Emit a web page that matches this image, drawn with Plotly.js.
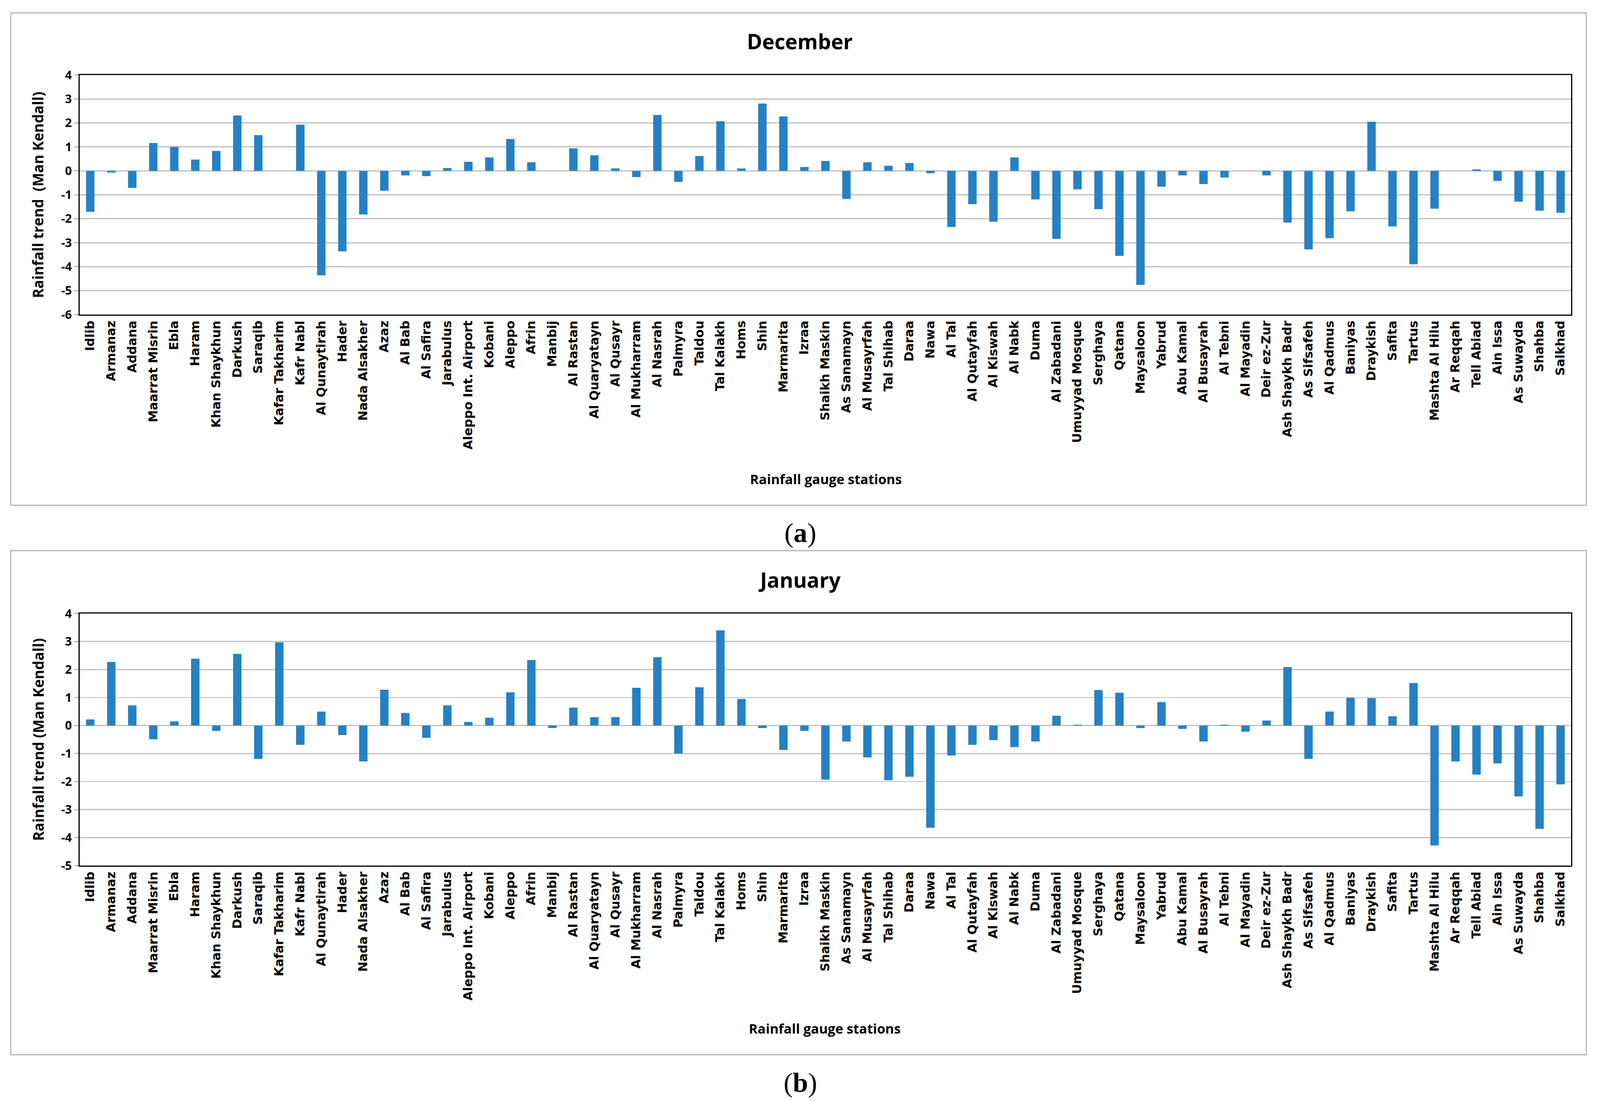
<!DOCTYPE html>
<html>
<head>
<meta charset="utf-8">
<script src="https://cdn.plot.ly/plotly-3.0.1.min.js"></script>
<style>
html,body{margin:0;padding:0;background:#fff;overflow:hidden;}
#chart{position:absolute;left:0;top:0;}
</style>
</head>
<body>
<div id="chart"></div>
<script>
const stations = ["Idlib","Armanaz","Addana","Maarrat Misrin","Ebla","Haram","Khan Shaykhun","Darkush","Saraqib","Kafar Takharim","Kafr Nabl","Al Qunaytirah","Hader","Nada Alsakher","Azaz","Al Bab","Al Safira","Jarabulus","Aleppo Int. Airport","Kobani","Aleppo","Afrin","Manbij","Al Rastan","Al Quaryatayn","Al Qusayr","Al Mukharram","Al Nasrah","Palmyra","Taldou","Tal Kalakh","Homs","Shin","Marmarita","Izraa","Shaikh Maskin","As Sanamayn","Al Musayrfah","Tal Shihab","Daraa","Nawa","Al Tal","Al Qutayfah","Al Kiswah","Al Nabk","Duma","Al Zabadani","Umuyyad Mosque","Serghaya","Qatana","Maysaloon","Yabrud","Abu Kamal","Al Busayrah","Al Tebni","Al Mayadin","Deir ez-Zur","Ash Shaykh Badr","As Sifsafeh","Al Qadmus","Baniyas","Draykish","Safita","Tartus","Mashta Al Hilu","Ar Reqqah","Tell Abiad","Ain Issa","As Suwayda","Shahba","Salkhad"];

const december = [-1.71,-0.07,-0.71,1.16,1.0,0.47,0.83,2.31,1.49,0,1.93,-4.36,-3.36,-1.82,-0.83,-0.19,-0.22,0.12,0.38,0.56,1.33,0.36,0,0.94,0.65,0.1,-0.26,2.33,-0.46,0.62,2.07,0.1,2.81,2.27,0.16,0.41,-1.17,0.36,0.21,0.33,-0.1,-2.34,-1.39,-2.12,0.56,-1.19,-2.84,-0.77,-1.6,-3.55,-4.76,-0.66,-0.19,-0.55,-0.28,0,-0.19,-2.16,-3.28,-2.81,-1.69,2.05,-2.32,-3.9,-1.58,0,0.06,-0.42,-1.29,-1.66,-1.75];

const january = [0.22,2.27,0.72,-0.49,0.15,2.39,-0.19,2.56,-1.19,2.97,-0.69,0.5,-0.34,-1.28,1.28,0.45,-0.44,0.72,0.13,0.28,1.19,2.34,-0.09,0.64,0.3,0.3,1.35,2.44,-1.0,1.37,3.4,0.95,-0.09,-0.87,-0.19,-1.93,-0.57,-1.14,-1.95,-1.83,-3.65,-1.07,-0.69,-0.52,-0.77,-0.57,0.35,0.03,1.27,1.17,-0.09,0.84,-0.12,-0.57,0.03,-0.22,0.18,2.09,-1.19,0.5,0.99,0.98,0.33,1.52,-4.28,-1.28,-1.75,-1.35,-2.53,-3.69,-2.1];

const decTicks = [-6,-5,-4,-3,-2,-1,0,1,2,3,4];
const janTicks = [-5,-4,-3,-2,-1,0,1,2,3,4];

const titles = {dec:"December", jan:"January", ytitleDec:"Rainfall trend  (Man Kendall)", ytitleJan:"Rainfall trend (Man Kendall)", xtitle:"Rainfall gauge stations"};

// reference frame 4313 x 2820; adapt to the real viewport
const RW = 4313, RH = 2820;
const W = window.innerWidth || RW, H = window.innerHeight || RH;
const fs = Math.min(W / RW, H / RH);
const chartDiv = document.getElementById("chart");
chartDiv.style.width = W + "px";
chartDiv.style.height = H + "px";
const px = v => v / RW;
const py = v => 1 - v / RH;
const f = v => v * fs;

const barColor = "#2581C4";
const gridColor = "#bfbfbf";
const labelFont = {family:"DejaVu Sans", size:f(33), color:"#000", weight:"bold"};
const tickFont = {family:"Open Sans", size:f(32), color:"#000", weight:"bold"};
const titleFont = {family:"Open Sans", size:f(56), color:"#000", weight:"bold"};
const axTitleFont = {family:"Open Sans", size:f(39), color:"#000", weight:"bold"};
const xTitleFont = {family:"Open Sans", size:f(36), color:"#000", weight:"bold"};
const capFont = {family:"Liberation Serif", size:f(74), color:"#000"};

const traces = [
  {type:"bar", x:stations, y:december, xaxis:"x", yaxis:"y", marker:{color:barColor, line:{width:0}}},
  {type:"bar", x:stations, y:january, xaxis:"x2", yaxis:"y2", marker:{color:barColor, line:{width:0}}}
];

function xaxisDef(anchor){
  return {
    anchor:anchor, domain:[px(215), px(4235)], type:"category",
    categoryorder:"array", categoryarray:stations,
    tickangle:-90, tickfont:labelFont, ticks:"", showgrid:false,
    showline:true, linecolor:"#000", linewidth:f(3), mirror:true,
    ticklabelstandoff:f(20), automargin:false, fixedrange:true
  };
}
function yaxisDef(anchor, domain, ticks){
  return {
    anchor:anchor, domain:domain, range:[ticks[0], ticks[ticks.length-1]],
    tickvals:ticks, ticktext:ticks.map(String), tickfont:tickFont,
    ticks:"outside", ticklen:f(12), tickwidth:2, tickcolor:"#9a9a9a",
    showgrid:true, gridcolor:gridColor, gridwidth:f(3),
    zeroline:true, zerolinecolor:gridColor, zerolinewidth:f(3),
    showline:true, linecolor:"#000", linewidth:f(3), mirror:true,
    ticklabelstandoff:f(14), automargin:false, fixedrange:true
  };
}

const layout = {
  width:W, height:H, autosize:false,
  margin:{l:0, r:0, t:0, b:0, pad:0},
  paper_bgcolor:"#fff", plot_bgcolor:"#fff",
  showlegend:false, bargap:0.6,
  xaxis: xaxisDef("y"),
  yaxis: yaxisDef("x", [py(805), py(192)], decTicks),
  xaxis2: xaxisDef("y2"),
  yaxis2: yaxisDef("x2", [py(2215), py(1570)], janTicks),
  shapes:[
    {type:"rect", xref:"paper", yref:"paper", x0:px(29), x1:px(4276), y0:py(1293), y1:py(33), line:{color:"#b3b3b3", width:f(3)}, fillcolor:"rgba(0,0,0,0)", layer:"below"},
    {type:"rect", xref:"paper", yref:"paper", x0:px(29), x1:px(4276), y0:py(2699), y1:py(1409), line:{color:"#b3b3b3", width:f(3)}, fillcolor:"rgba(0,0,0,0)", layer:"below"}
  ],
  annotations:[
    {text:titles.dec, xref:"paper", yref:"paper", x:px(2156), y:py(105), showarrow:false, font:titleFont, xanchor:"center", yanchor:"middle"},
    {text:titles.jan, xref:"paper", yref:"paper", x:px(2156), y:py(1483), showarrow:false, font:titleFont, xanchor:"center", yanchor:"middle"},
    {text:titles.ytitleDec, xref:"paper", yref:"paper", x:px(102), y:py(498), showarrow:false, font:axTitleFont, textangle:-90, xanchor:"center", yanchor:"middle"},
    {text:titles.ytitleJan, xref:"paper", yref:"paper", x:px(102), y:py(1892), showarrow:false, font:axTitleFont, textangle:-90, xanchor:"center", yanchor:"middle"},
    {text:titles.xtitle, xref:"paper", yref:"paper", x:px(2226), y:py(1225), showarrow:false, font:xTitleFont, xanchor:"center", yanchor:"middle"},
    {text:titles.xtitle, xref:"paper", yref:"paper", x:px(2223), y:py(2631), showarrow:false, font:xTitleFont, xanchor:"center", yanchor:"middle"},
    {text:"(<b>a</b>)", xref:"paper", yref:"paper", x:px(2158), y:py(1363), showarrow:false, font:capFont, xanchor:"center", yanchor:"middle"},
    {text:"(<b>b</b>)", xref:"paper", yref:"paper", x:px(2158), y:py(2770), showarrow:false, font:capFont, xanchor:"center", yanchor:"middle"}
  ]
};

Plotly.newPlot(chartDiv, traces, layout, {displayModeBar:false, staticPlot:true});
</script>
</body>
</html>
